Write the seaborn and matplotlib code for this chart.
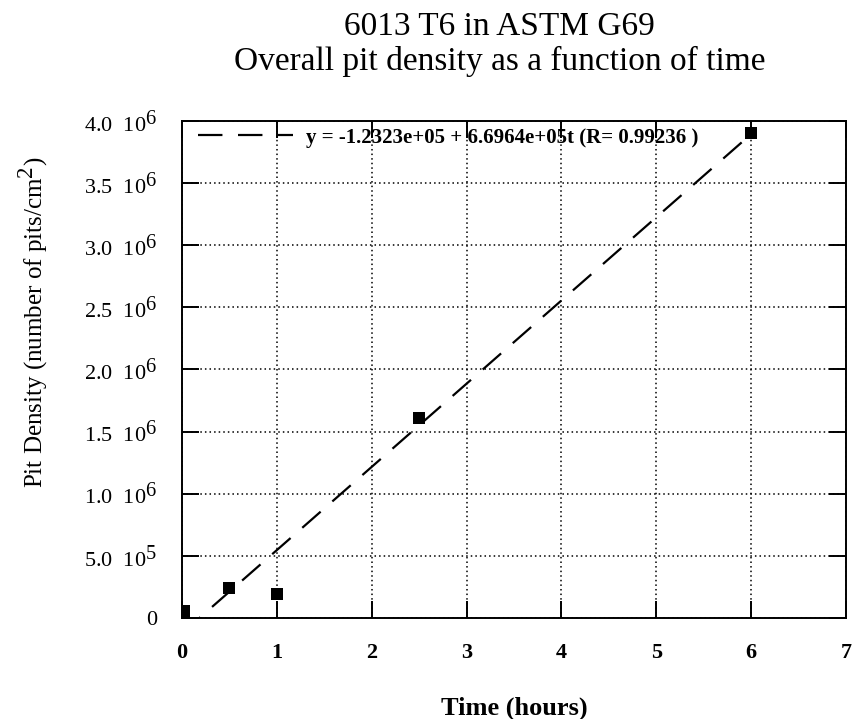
import numpy as np
import pandas as pd
import matplotlib
matplotlib.use("Agg")
import matplotlib.pyplot as plt
import matplotlib._mathtext as _mathtext
import seaborn as sns

# Measured pit density vs exposure time
time_h = [0.02, 0.5, 1.0, 2.5, 6.0]
pit_density = [6.0e4, 2.4e5, 1.9e5, 1.61e6, 3.90e6]

# Linear fit coefficients reported in the legend
fit_intercept = -1.2323e5
fit_slope = 6.6964e5
fit_r = 0.99236

x_ticks = [0, 1, 2, 3, 4, 5, 6, 7]
y_ticks = [0, 5.0e5, 1.0e6, 1.5e6, 2.0e6, 2.5e6, 3.0e6, 3.5e6, 4.0e6]
y_tick_labels = ["0", r"5.0  $10^{5}$", r"1.0  $10^{6}$", r"1.5  $10^{6}$", r"2.0  $10^{6}$",
                 r"2.5  $10^{6}$", r"3.0  $10^{6}$", r"3.5  $10^{6}$", r"4.0  $10^{6}$"]

sns.set_style("ticks")
plt.rcParams["font.family"] = ["Liberation Serif", "DejaVu Serif"]
plt.rcParams["mathtext.fontset"] = "custom"
plt.rcParams["mathtext.rm"] = "Liberation Serif"
plt.rcParams["mathtext.it"] = "Liberation Serif:italic"
plt.rcParams["mathtext.bf"] = "Liberation Serif:bold"
for key in ("text.color", "axes.labelcolor", "xtick.color", "ytick.color", "axes.edgecolor"):
    plt.rcParams[key] = "black"
# exponents printed nearly full size, typewriter style
_mathtext.SHRINK_FACTOR = 0.92

fig = plt.figure(figsize=(8.6, 7.19), dpi=100)
ax = fig.add_axes([0.2116, 0.1405, 0.7721, 0.6912])

data = pd.DataFrame({"t": time_h, "density": pit_density})
fit_t = np.array([0.0, 6.0])
fit = pd.DataFrame({"t": fit_t, "density": fit_intercept + fit_slope * fit_t})

label = f"y = {fit_intercept:.4e} + {fit_slope:.4e}t (R= {fit_r} )"
sns.lineplot(data=fit, x="t", y="density", ax=ax, color="black", lw=1.6,
             dashes=False, label=label)
ax.lines[0].set_dashes([11, 7])
sns.scatterplot(data=data, x="t", y="density", ax=ax, marker="s", s=85,
                color="black", edgecolor="black", linewidth=0, zorder=5)

ax.set_xlim(0, 7)
ax.set_ylim(0, 4.0e6)
ax.set_xticks(x_ticks)
ax.set_xticklabels([str(v) for v in x_ticks], fontsize=16, fontweight="bold")
ax.set_yticks(y_ticks)
ax.set_yticklabels(y_tick_labels, fontsize=16)

ax.grid(True, color="black", linestyle=(0, (1, 2)), linewidth=1.1)
for s in ax.spines.values():
    s.set_visible(True)
    s.set_linewidth(1.4)
    s.set_color("black")
ax.tick_params(direction="in", length=12, width=1.4, top=True, right=True,
               pad=18, colors="black")

ax.set_xlabel("Time (hours)", fontsize=19, fontweight="bold", labelpad=24)
ax.set_ylabel(r"Pit Density (number of pits/cm$^{2}$)", fontsize=18)
ax.yaxis.set_label_coords(-0.2, 0.595)
fig.suptitle("6013 T6 in ASTM G69\nOverall pit density as a function of time",
             fontsize=24, x=0.581, y=0.984, linespacing=1.18)

leg = ax.legend(loc="upper left", bbox_to_anchor=(0.0, 1.018), frameon=False,
                handlelength=4.6, handletextpad=0.6, borderaxespad=0.35,
                prop={"family": "Liberation Serif", "weight": "bold", "size": 15})

fig.savefig("out.png", dpi=100)
